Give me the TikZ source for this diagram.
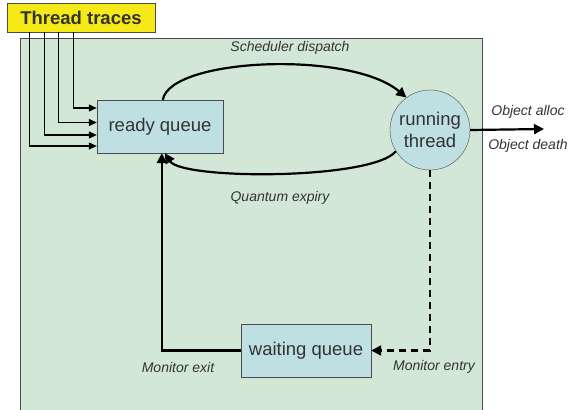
\documentclass[tikz,border=0pt]{standalone}
\usepackage{fontspec}
\setmainfont{Liberation Sans}
\usetikzlibrary{arrows.meta}

\definecolor{bggreen}{HTML}{D3E7D7}
\definecolor{boxblue}{HTML}{BEE0E3}
\definecolor{traceyellow}{HTML}{F5EA17}
\definecolor{textgray}{HTML}{333333}

\begin{document}
\begin{tikzpicture}[x=1pt, y=-1pt,
    box/.style={draw=black!70, fill=boxblue, text=textgray, font=\fontsize{18.5}{22}\selectfont, inner sep=0pt},
    lbl/.style={text=textgray, font=\fontsize{14}{16}\selectfont\itshape},
    flow/.style={line width=2.2pt, -{Triangle[width=10pt, length=10pt]}},
    trace/.style={line width=1.3pt, -{Triangle[width=7pt, length=8pt]}}]
    \useasboundingbox (0,0) rectangle (571,410);
    \fill[bggreen] (20,38) rectangle (482,412);
    \draw[black!70, line width=0.6pt] (20,412) -- (20,38) -- (482,38) -- (482,412);

    \node[box, fill=traceyellow, minimum width=148pt, minimum height=29pt, font=\fontsize{18.5}{22}\selectfont\bfseries] (tt) at (81,17.5) {Thread traces};
    \node[box, minimum width=126pt, minimum height=53pt] (rq) at (160,126.5) {ready queue};
    \node[box, circle, minimum size=80pt, align=center] (rt) at (430,130) {running\\thread};
    \node[box, minimum width=130pt, minimum height=53pt] (wq) at (306,350.5) {waiting queue};
    \coordinate (objend) at (544,129);

    % traces into the ready queue
    \draw[trace] ([xshift=67pt]tt.south west) |- ([yshift=18.5pt]rq.west);
    \draw[trace] ([xshift=52pt]tt.south west) |- ([yshift=4pt]rq.west);
    \draw[trace] ([xshift=38pt]tt.south west) |- ([yshift=-8.5pt]rq.west);
    \draw[trace] ([xshift=23pt]tt.south west) |- ([yshift=-19.5pt]rq.west);

    % scheduling
    \draw[flow] ([xshift=66pt]rq.north west) .. controls (170,58) and (350,50) .. (rt.126);
    \draw[flow] (rt.212) .. controls (372,180) and (182,180) .. ([xshift=68pt]rq.south west);
    \draw[flow] (wq.west) -| ([xshift=65pt]rq.south west);
    \draw[flow, dashed, dash pattern=on 7pt off 5pt] (rt.south) |- (wq.east);
    \draw[flow] (rt.east) -- (objend);

    \node[lbl] at (290,48) {Scheduler dispatch};
    \node[lbl] at (280,198) {Quantum expiry};
    \node[lbl] at (178,367) {Monitor exit};
    \node[lbl] at (434,367) {Monitor entry};
    \node[lbl] at (528,112) {Object alloc};
    \node[lbl] at (528,146) {Object death};
\end{tikzpicture}
\end{document}
